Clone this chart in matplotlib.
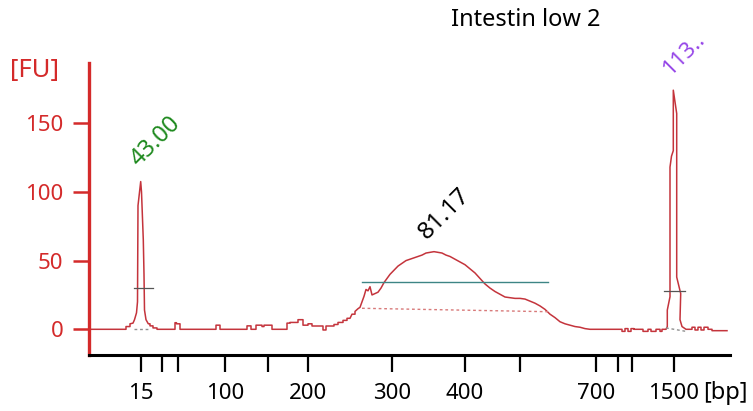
import numpy as np
import matplotlib
matplotlib.use('Agg')
import matplotlib.pyplot as plt

plt.rcParams['font.family'] = ['Noto Sans', 'DejaVu Sans']

# ladder (migration position -> bp)
ladder_pos = [141, 162, 178, 225, 268, 308, 392, 465, 520, 596, 618, 632, 674]
ladder_bp = [15, 25, 50, 100, 150, 200, 300, 400, 500, 700, 850, 1000, 1500]
shown_bp = [15, 100, 200, 300, 400, 700, 1500]

# trace pieces (x = migration position, y = FU)
low_x = [89, 126, 126, 130, 130, 133, 134.5, 136.5, 137.5, 138, 140.7, 141.5, 143.3, 144, 144.5, 146, 148.3, 150, 150, 153, 153, 157, 157]
low_y = [0, 0, 2, 2, 4, 4.5, 7, 12, 20, 90, 107.5, 100, 65, 40, 14, 7, 4, 4, 2.5, 2.5, 1, 1, 0]

noise1_x = [175, 175, 176.5, 176.5, 180, 180, 216, 216, 220, 220, 247, 247, 251, 251,
            256, 256, 262, 262, 264, 264, 272, 272, 287, 287, 290, 290, 298, 298,
            303, 303, 308, 308, 312]
noise1_y = [0, 4.8, 4.8, 4, 4, 0, 0, 3, 3, 0, 0, 2.5, 2.5, 0,
            0, 3, 3, 2, 2, 3, 3, 0, 0, 4.5, 4.5, 5, 5, 7,
            7, 3, 3, 4, 4]

smear_x = [312, 323, 323, 326, 326, 334, 334, 338, 338, 343, 343, 347, 347, 350, 352, 355, 355,
           358, 360, 362, 364, 366, 368, 370, 372, 375, 378, 381, 384, 387, 390, 394, 398,
           402, 406, 410, 414, 418, 422, 426, 430, 434, 438, 442, 446, 450, 455, 460, 465,
           470, 475, 480, 485, 490, 495, 500, 505, 510, 515, 520, 525, 530, 535, 540, 545,
           550, 555, 560, 565, 570, 575, 580, 585, 590]
smear_y = [2.4, 2.4, -0.5, -0.5, 2.4, 2.4, 3.5, 3.5, 5, 5, 6.5, 6.5, 8, 8, 11, 11, 13,
           15, 16, 20, 24, 29, 28, 31, 25, 26, 27, 30, 34, 37, 40, 43, 46,
           48, 50, 51, 52, 53, 54, 55.5, 56, 56.5, 56, 55.5, 54, 53, 51, 49, 47,
           44, 41, 37, 33, 30, 27.5, 25.5, 23.5, 23, 22.5, 22.5, 22, 20.5, 19, 17, 14.5,
           11, 8.5, 5.5, 4, 3, 2, 1.5, 0.5, 0]

noise2_x = [622, 622, 625, 625, 628, 628, 631, 631, 634, 634,
            643, 643, 648, 648, 651, 651, 656, 656, 660, 660, 662, 662]
noise2_y = [0, -1.5, -1.5, 0.5, 0.5, -1.5, -1.5, 0.5, 0.5, 0,
            0, -1.5, -1.5, 0, 0, -1.5, -1.5, 0, 0, -1.5, -1.5, 0]

up_x = [666, 667.3, 667.3, 670, 670, 671.5, 673.3, 673.3, 676.7, 676.7, 680.7, 680, 682, 686]
up_y = [0, 2, 14, 23.7, 118, 126, 130, 174, 157, 38, 26, 7, 2, 0]

noise3_x = [692, 692, 695, 695, 698, 698, 701, 701, 704, 704, 708, 708, 712, 712, 727]
noise3_y = [0, 1.5, 1.5, -0.5, -0.5, 1.5, 1.5, -0.5, -0.5, 1.5, 1.5, 0, 0, -1, -1]

trace_x = low_x + noise1_x + smear_x + noise2_x + up_x + noise3_x
trace_y = low_y + noise1_y + smear_y + noise2_y + up_y + noise3_y

# region / peak annotations
region_x = [362, 548]
region_level = 34.2
region_base = [15.3, 12.8]
low_peak = (140.7, 107.5, '43.00')
smear_peak = (433, 56.5, '81.17')
up_peak = (673.3, 174, '113..')

red = '#d42a2a'
trace_col = '#c4343c'

fig = plt.figure(figsize=(7.53, 4.11), dpi=100)
ax = fig.add_axes([89/753, 56/411, 641/753, 292.3/411])

ax.plot(trace_x, trace_y, color=trace_col, lw=1.1)

ax.plot(region_x, [region_level, region_level], color='#3d8585', lw=1.0)
ax.plot(region_x, region_base, color='#d87a7a', lw=1.0, ls=(0, (2, 2)))
ax.plot([134, 150], [0, 0], color='#909090', lw=1.0, ls=(0, (2, 2)))
ax.plot([666, 686], [1, -1.5], color='#909090', lw=1.0, ls=(0, (2, 2)))
ax.plot([134, 153], [30, 30], color='#555555', lw=0.9)
ax.plot([664, 685], [28, 28], color='#555555', lw=0.9)

ax.text(low_peak[0] - 2, low_peak[1] + 10.5, low_peak[2], color='#1f8a1f', fontsize=17,
        rotation=45, rotation_mode='anchor', ha='left', va='baseline')
ax.text(smear_peak[0] - 6, smear_peak[1] + 8.5, smear_peak[2], color='black', fontsize=17.5,
        rotation=45, rotation_mode='anchor', ha='left', va='baseline')
ax.text(up_peak[0] - 3.3, up_peak[1] + 10, up_peak[2], color='#9646e8', fontsize=16,
        rotation=45, rotation_mode='anchor', ha='left', va='baseline', clip_on=False)

ax.set_xlim(89, 730)
ax.set_ylim(-18.7, 194)

ax.spines['top'].set_visible(False)
ax.spines['right'].set_visible(False)
ax.spines['left'].set_color(red)
ax.spines['left'].set_linewidth(2.4)
ax.spines['bottom'].set_color('black')
ax.spines['bottom'].set_linewidth(2.2)

ax.set_yticks([0, 50, 100, 150])
ax.tick_params(axis='y', colors=red, labelsize=16, length=11.5, width=1.8, pad=7)
ax.set_xticks(ladder_pos)
ax.set_xticklabels([str(b) if b in shown_bp else '' for b in ladder_bp])
ax.tick_params(axis='x', colors='black', labelsize=16, length=12, width=1.6, pad=8)

fig.text(0.698, 0.951, 'Intestin low 2', fontsize=17, ha='center', va='center')
fig.text(0.013, 0.812, '[FU]', color=red, fontsize=18.5, ha='left', va='baseline')
fig.text(0.934, 0.028, '[bp]', color='black', fontsize=17, ha='left', va='baseline')

fig.savefig('out.png', dpi=100)
